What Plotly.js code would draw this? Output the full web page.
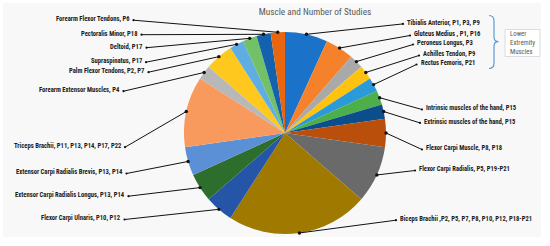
<!DOCTYPE html>
<html>
<head>
<meta charset="utf-8">
<script src="https://cdn.plot.ly/plotly-3.0.1.min.js"></script>
<style>html,body{margin:0;padding:0;background:#fff;}#chart{width:550px;height:246px;}</style>
</head>
<body>
<div id="chart"></div>
<script>
// ---- data ----
const muscles = [
  "Tibialis Anterior", "Gluteus Medius", "Peroneus Longus", "Achilles Tendon", "Rectus Femoris",
  "Intrinsic muscles of the hand", "Extrinsic muscles of the hand", "Flexor Carpi Muscle",
  "Flexor Carpi Radialis", "Biceps Brachii", "Flexor Carpi Ulnaris", "Extensor Carpi Radialis Longus",
  "Extensor Carpi Radialis Brevis", "Triceps Brachii", "Forearm Extensor Muscles", "Palm Flexor Tendons",
  "Supraspinatus", "Deltoid", "Pectoralis Minor", "Forearm Flexor Tendons"
];
const studyCounts = [3, 2, 1, 1, 1, 1, 1, 2, 4, 10, 2, 2, 2, 5, 1, 2, 1, 1, 1, 1];
const labelTexts = [
  "Tibialis Anterior, P1, P3, P9", "Gluteus Medius , P1, P16", "Peroneus Longus, P3", "Achilles Tendon, P9",
  "Rectus Femoris, P21", "Intrinsic muscles of the hand, P15", "Extrinsic muscles of the hand, P15",
  "Flexor Carpi Muscle, P8, P18", "Flexor Carpi Radialis, P5, P19-P21",
  "Biceps Brachii ,P2, P5, P7, P8, P10, P12, P18-P21", "Flexor Carpi Ulnaris, P10, P12",
  "Extensor Carpi Radialis Longus, P13, P14", "Extensor Carpi Radialis Brevis, P13, P14",
  "Triceps Brachii, P11, P13, P14, P17, P22", "Forearm Extensor Muscles, P4", "Palm Flexor Tendons, P2, P7",
  "Supraspinatus, P17", "Deltoid, P17", "Pectoralis Minor, P18", "Forearm Flexor Tendons, P6"
];
const titleText = "Muscle and Number of Studies";
const groupText = "Lower<br>Extremity<br>Muscles";

// ---- styles / layout positions (pixels) ----
const sliceColors = [
  "#1b72c9", "#f5822a", "#a9a9a9", "#ffc20e", "#2a9ad8", "#4caf4a", "#0c4d8c", "#b94f0a",
  "#6a6a6a", "#a07a00", "#2455a6", "#2e6e2c", "#5b8fd6", "#f89a5e", "#b8b8b8", "#ffc81e",
  "#5eaee3", "#72c166", "#1462ae", "#e9660f"
];
// [side, x, y] : side 'r' = text starts at x ; side 'l' = text ends at x
const labelPos = [
  ["r", 405, 22.7], ["r", 412, 34.3], ["r", 415, 43.3], ["r", 421, 54.3], ["r", 418.5, 63.3],
  ["r", 424, 108.3], ["r", 422, 121.7], ["r", 424, 148.3], ["r", 417, 169.3], ["r", 398, 219],
  ["l", 123, 218.3], ["l", 127, 195], ["l", 125, 172.3], ["l", 123.5, 146], ["l", 122, 90],
  ["l", 147, 71], ["l", 144.5, 61], ["l", 145, 46.5], ["l", 140, 33.5], ["l", 132, 19]
];
const W = 550, H = 246;
const CX = 285, CY = 133, R = 101;
const labelFont = "'Liberation Sans Narrow', 'Arial Narrow', 'Roboto Condensed', 'Liberation Sans', Arial, sans-serif";

// ---- build ----
const total = studyCounts.reduce((a, b) => a + b, 0);
const shapes = [];
const annotations = [];

// chart panel background
shapes.push({type: "rect", xref: "x", yref: "y", x0: 3, x1: 541, y0: 3, y1: 237,
  fillcolor: "#f8f8f8", line: {width: 0}, layer: "below"});

let cum = 0;
studyCounts.forEach((v, i) => {
  const mid = (cum + v / 2) / total * 2 * Math.PI; // clockwise from 12 o'clock
  cum += v;
  const px = CX + R * Math.sin(mid);
  const py = CY - R * Math.cos(mid);
  const [side, lx, ly] = labelPos[i];
  const ex = side === "r" ? lx - 2 : lx + 1.5;
  const ey = ly + 1.2;
  shapes.push({type: "line", xref: "x", yref: "y", x0: ex, y0: ey, x1: px, y1: py,
    line: {color: "#111", width: 1}, layer: "above"});
  shapes.push({type: "circle", xref: "x", yref: "y", x0: px - 1.7, x1: px + 1.7, y0: py - 1.7, y1: py + 1.7,
    fillcolor: "#111", line: {width: 0}, layer: "above"});
  shapes.push({type: "circle", xref: "x", yref: "y", x0: ex - 1.1, x1: ex + 1.1, y0: ey - 1.1, y1: ey + 1.1,
    fillcolor: "#111", line: {width: 0}, layer: "above"});
  annotations.push({xref: "x", yref: "y", x: lx, y: ly, text: labelTexts[i], showarrow: false,
    xanchor: side === "r" ? "left" : "right", yanchor: "middle",
    font: {family: labelFont, size: 6.6, color: "#1a1a1a", weight: 700}});
});

// bracket for lower extremity group
shapes.push({type: "path", xref: "x", yref: "y",
  path: "M 489,15.5 Q 494,15.5 494,21 L 494,37 Q 494,41.7 498.5,41.7 Q 494,41.7 494,46.5 L 494,63 Q 494,68.5 489,68.5",
  line: {color: "#5b9bd5", width: 1.2}, layer: "above"});
shapes.push({type: "rect", xref: "x", yref: "y", x0: 505, x1: 540, y0: 29.5, y1: 56.5,
  fillcolor: "#ffffff", line: {color: "#d4d4d4", width: 0.8}, layer: "above"});
annotations.push({xref: "x", yref: "y", x: 508, y: 43, text: groupText, showarrow: false,
  xanchor: "left", yanchor: "middle", align: "left",
  font: {family: labelFont, size: 6.8, color: "#595959"}});

const pie = {
  type: "pie",
  labels: muscles,
  values: studyCounts,
  sort: false,
  direction: "clockwise",
  rotation: 0,
  textinfo: "none",
  hoverinfo: "label+value",
  showlegend: false,
  marker: {colors: sliceColors, line: {width: 0}},
  domain: {x: [(CX - R) / W, (CX + R) / W], y: [(H - CY - R) / H, (H - CY + R) / H]}
};

const layout = {
  width: W, height: H,
  margin: {l: 0, r: 0, t: 0, b: 0},
  paper_bgcolor: "#ffffff",
  plot_bgcolor: "rgba(0,0,0,0)",
  title: {text: titleText, x: 315 / W, xanchor: "center", y: 1 - 12 / H, yanchor: "middle",
    font: {family: labelFont, size: 9.3, color: "#595959"}},
  xaxis: {range: [0, W], visible: false, fixedrange: true},
  yaxis: {range: [H, 0], visible: false, fixedrange: true},
  shapes: shapes,
  annotations: annotations
};

Plotly.newPlot("chart", [pie], layout, {displayModeBar: false, staticPlot: true});
</script>
</body>
</html>
